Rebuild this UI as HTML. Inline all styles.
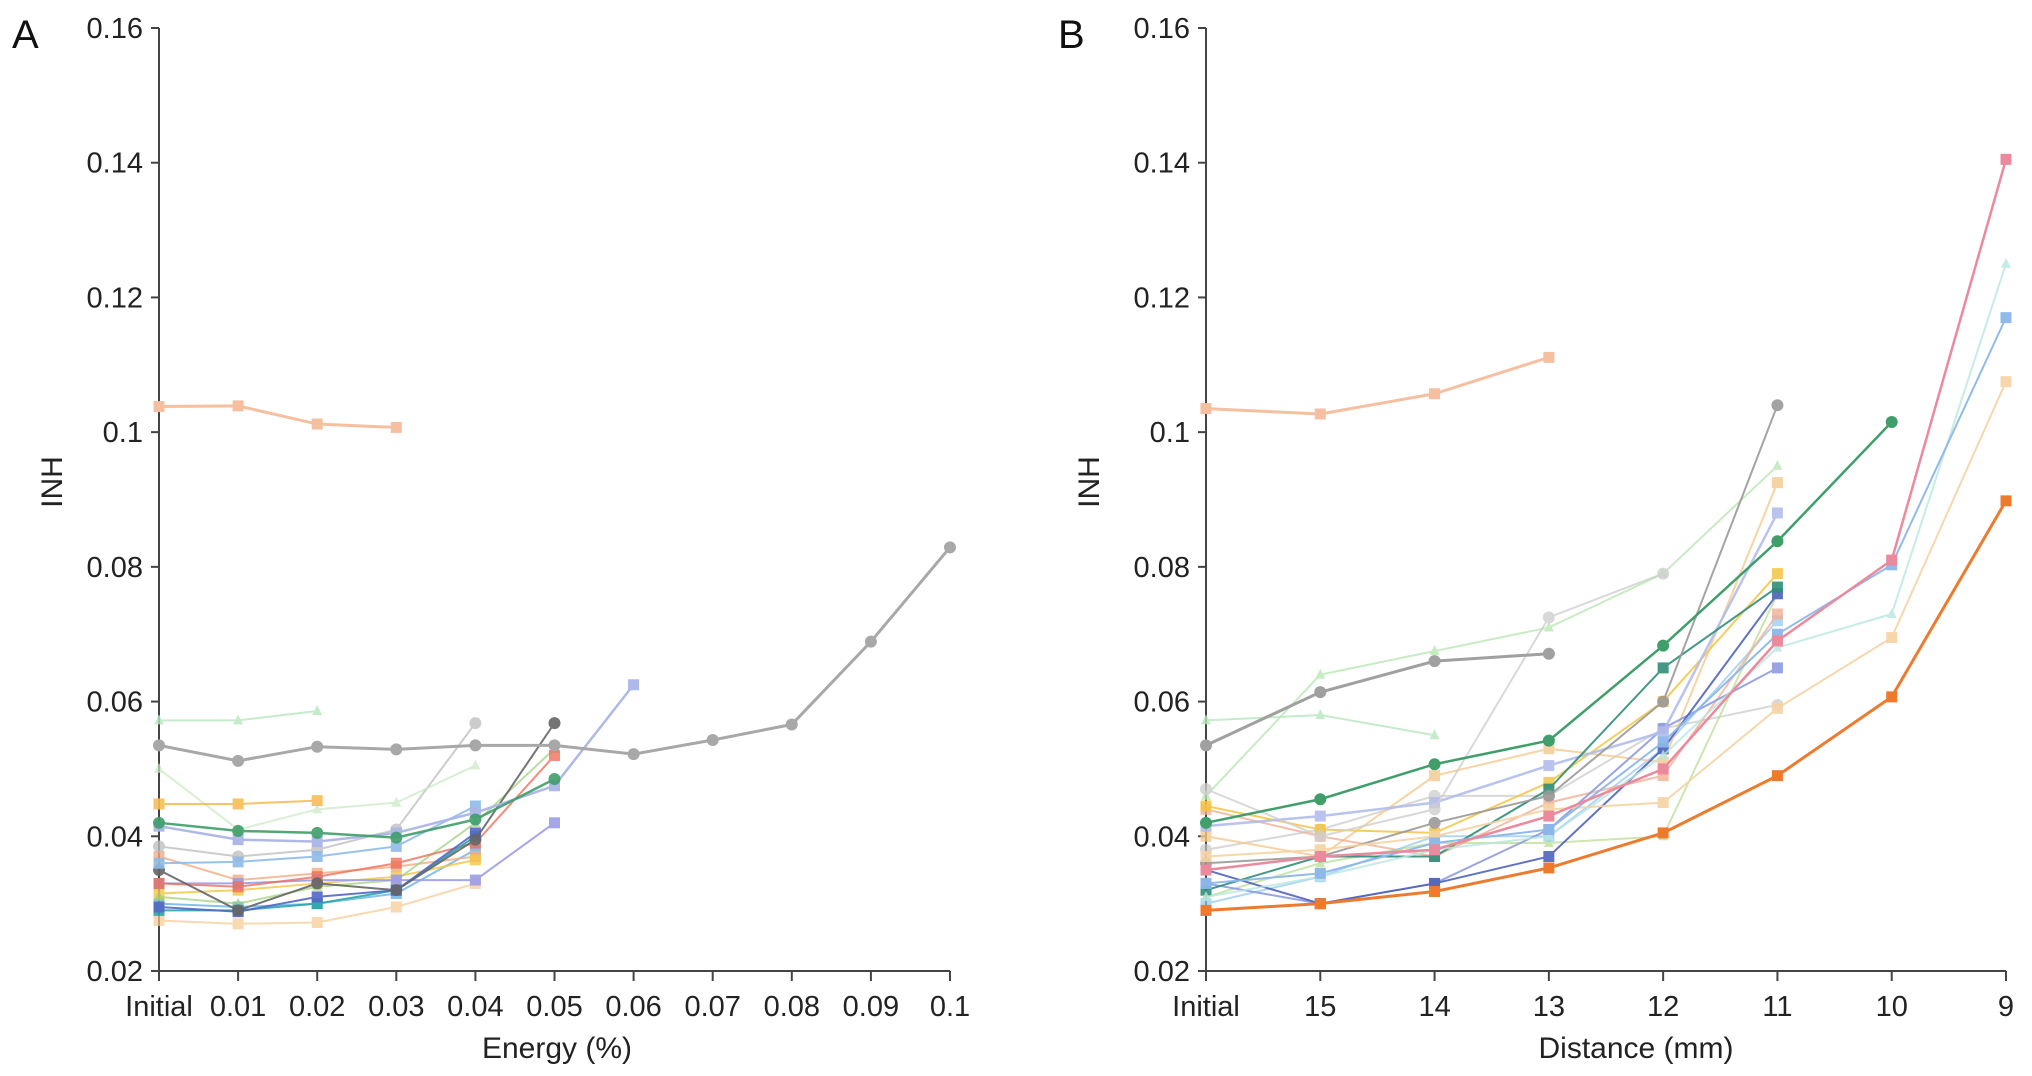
<!DOCTYPE html>
<html><head><meta charset="utf-8">
<style>
html,body{margin:0;padding:0;background:#fff;}
svg{display:block;font-family:"Liberation Sans",Arial,sans-serif;}
</style></head>
<body>
<svg id="chart" width="2032" height="1076" viewBox="0 0 2032 1076" xmlns="http://www.w3.org/2000/svg"></svg>
<script>
// ---- Panel A data ----
const catsA = ["Initial","0.01","0.02","0.03","0.04","0.05","0.06","0.07","0.08","0.09","0.1"];
const a_peach = [0.1038,0.1039,0.1012,0.1007];
const a_gray = [0.0535,0.0512,0.0533,0.0529,0.0535,0.0535,0.0522,0.0543,0.0566,0.0689,0.0829];
const a_mint = [0.0572,0.0572,0.0586];
const a_orange = [0.0448,0.0448,0.0453];
const a_green = [0.0420,0.0408,0.0405,0.0398,0.0425,0.0485];
const a_lav = [0.0415,0.0395,0.0392,0.0405,0.0435,0.0475,0.0625];
const a_blue = [0.0360,0.0362,0.0370,0.0385,0.0445];
const a_darkgray = [0.0350,0.0290,0.0330,0.0320,0.0395,0.0568];
const a_red = [0.0330,0.0325,0.0340,0.0360,0.0390,0.0520];
const a_purple = [0.0330,0.0330,0.0335,0.0335,0.0335,0.0420];
const a_teal = [0.0290,0.0290,0.0300,0.0320,0.0400];
const a_yellow = [0.0315,0.0320,0.0330,0.0340,0.0365];
const a_navy = [0.0295,0.0288,0.0310,0.0320,0.0405];
const a_ltgray = [0.0385,0.0370,0.0380,0.0410,0.0568];
const a_ltorange = [0.0275,0.0270,0.0272,0.0295,0.0330];
const a_sky = [0.0300,0.0295,0.0300,0.0315,0.0380];
const a_ltgreen = [0.0500,0.0410,0.0440,0.0450,0.0505];
const a_salmon = [0.0370,0.0335,0.0345,0.0355,0.0370];
const a_olive = [0.0310,0.0300,0.0325,0.0335,0.0420,0.0530];
// ---- Panel B data ----
const catsB = ["Initial","15","14","13","12","11","10","9"];
const b_peach = [0.1035,0.1027,0.1057,0.1111];
const b_gray = [0.0535,0.0614,0.0660,0.0671];
const b_ltgray = [0.0470,0.0400,0.0440,0.0725,0.0790];
const b_gray2 = [0.0360,0.0370,0.0420,0.0460,0.0600,0.1040];
const b_mint = [0.0572,0.0580,0.0550];
const b_ltgreen = [0.0460,0.0640,0.0675,0.0710,0.0790,0.0950];
const b_green = [0.0420,0.0455,0.0507,0.0542,0.0683,0.0838,0.1015];
const b_pink = [0.0350,0.0370,0.0380,0.0430,0.0500,0.0690,0.0810,0.1405];
const b_blue = [0.0330,0.0345,0.0390,0.0410,0.0540,0.0700,0.0803,0.1170];
const b_ltorange = [0.0370,0.0380,0.0400,0.0440,0.0450,0.0590,0.0695,0.1075];
const b_orange = [0.0290,0.0300,0.0318,0.0353,0.0405,0.0490,0.0607,0.0898];
const b_aqua = [0.0310,0.0340,0.0380,0.0400,0.0520,0.0680,0.0730,0.1250];
const b_teal = [0.0320,0.0370,0.0370,0.0470,0.0650,0.0770];
const b_navy = [0.0350,0.0300,0.0330,0.0370,0.0530,0.0760];
const b_lav = [0.0415,0.0430,0.0450,0.0505,0.0555,0.0880];
const b_yellow = [0.0445,0.0410,0.0405,0.0480,0.0600,0.0790];
const b_purple = [0.0330,0.0300,0.0330,0.0410,0.0560,0.0650];
const b_salmon = [0.0440,0.0400,0.0370,0.0450,0.0490,0.0730];
const b_sand = [0.0400,0.0370,0.0490,0.0530,0.0510,0.0925];
const b_sky = [0.0300,0.0340,0.0400,0.0400,0.0530,0.0720];
const b_olive = [0.0310,0.0360,0.0390,0.0390,0.0400,0.0760];
const b_grayish = [0.0380,0.0410,0.0460,0.0460,0.0560,0.0595];

const NS="http://www.w3.org/2000/svg";
const svg=document.getElementById('chart');
function mk(tag,attrs,parent){const e=document.createElementNS(NS,tag);for(const k in attrs)e.setAttribute(k,attrs[k]);(parent||svg).appendChild(e);return e;}

function panel(cfg){
  const g=mk('g',{});
  
  
  const y0=971, yTop=28;
  const yS=v=>y0-(v-0.02)/(0.14)*(y0-yTop);
  const xS=i=>cfg.x0+i*(cfg.x1-cfg.x0)/(cfg.cats.length-1);
  const ya=mk('line',{x1:cfg.x0,y1:yTop,x2:cfg.x0,y2:y0,stroke:'#444','stroke-width':2},g);
  
  
  const xa=mk('line',{x1:cfg.x0,y1:y0,x2:cfg.x1,y2:y0,stroke:'#444','stroke-width':2},g);
  
  
  const yt=[0.02,0.04,0.06,0.08,0.1,0.12,0.14,0.16];
  const ytl=["0.02","0.04","0.06","0.08","0.1","0.12","0.14","0.16"];
  yt.forEach((v,i)=>{
    mk('line',{x1:cfg.x0-8,y1:yS(v),x2:cfg.x0,y2:yS(v),stroke:'#444','stroke-width':2},g);
    const t=mk('text',{x:cfg.x0-16,y:yS(v)+10,'font-size':29,'text-anchor':'end',fill:'#222'},g);
    t.textContent=ytl[i];
    
    
  });
  cfg.cats.forEach((c,i)=>{
    mk('line',{x1:xS(i),y1:y0,x2:xS(i),y2:y0+10,stroke:'#444','stroke-width':2},g);
    const t=mk('text',{x:xS(i),y:y0+45,'font-size':29,'text-anchor':'middle',fill:'#222'},g);
    t.textContent=c;
    
    
  });
  const xt=mk('text',{x:cfg.xTitleX,y:1058,'font-size':30,'text-anchor':'middle',fill:'#222'},g);
  xt.textContent=cfg.xTitle;
  
  
  const yl=mk('text',{x:cfg.yTitleX,y:482,'font-size':30,'text-anchor':'middle',fill:'#222',transform:`rotate(-90 ${cfg.yTitleX} 482)`},g);
  yl.textContent='INH';
  
  
  const pl=mk('text',{x:cfg.labelX,y:48,'font-size':40,fill:'#111'},g);
  pl.textContent=cfg.label;
  
  
  cfg.series.forEach(s=>{
    const [vals,color,mark,w,op]=s;
    const sg=mk('g',{opacity:op},g);
    
    
    const pts=vals.map((v,i)=>xS(i)+','+yS(v)).join(' ');
    mk('polyline',{points:pts,fill:'none',stroke:color,'stroke-width':w},sg);
    vals.forEach((v,i)=>{
      let m;
      if(mark==='c') m=mk('circle',{cx:xS(i),cy:yS(v),r:6,fill:color},sg);
      else if(mark==='t') m=mk('polygon',{points:`${xS(i)},${yS(v)-6} ${xS(i)-5},${yS(v)+4} ${xS(i)+5},${yS(v)+4}`,fill:color},sg);
      else m=mk('rect',{x:xS(i)-5.5,y:yS(v)-5.5,width:11,height:11,fill:color},sg);
      
      
    });
  });
}

panel({name:'panel-a',label:'A',labelX:12,x0:159,x1:950,cats:catsA,xTitle:'Energy (%)',xTitleX:557,yTitleX:62,
series:[
 [a_ltorange,'#f6c990','s',2,0.7],[a_sky,'#63b3e8','s',2,0.8],[a_salmon,'#f3ab86','s',2,0.8],
 [a_yellow,'#f4c542','s',2,0.8],[a_ltgray,'#c0c0c0','c',2,0.8],[a_olive,'#9ccf7a','t',2,0.7],
 [a_ltgreen,'#c9e8c4','t',2,0.7],[a_purple,'#9d9de8','s',2,0.9],[a_red,'#ee6f5a','s',2,0.8],
 [a_teal,'#2aa7a7','s',2,0.9],[a_navy,'#5567c8','s',2,0.9],[a_darkgray,'#666','c',2,0.9],
 [a_blue,'#8fbbe8','s',2,0.9],[a_lav,'#aab6e6','s',2.5,0.95],[a_green,'#3f9e6a','c',2.5,0.9],
 [a_orange,'#f7bd55','s',2,0.9],[a_mint,'#b7e8bd','t',2,0.8],[a_gray,'#a8a8a8','c',3,1],[a_peach,'#f5bfa0','s',3,1]
]});

panel({name:'panel-b',label:'B',labelX:1058,x0:1206,x1:2006,cats:catsB,xTitle:'Distance (mm)',xTitleX:1636,yTitleX:1099,
series:[
 [b_grayish,'#c8c8c8','c',2,0.7],[b_olive,'#b7dc8d','t',2,0.7],[b_sky,'#8fc7ee','s',2,0.7],
 [b_sand,'#f5c98c','s',2,0.8],[b_salmon,'#f1b095','s',2,0.8],[b_purple,'#8f9be0','s',2,0.9],
 [b_yellow,'#f4c542','s',2,0.85],[b_lav,'#b2bdec','s',2.5,0.9],[b_navy,'#4f63bc','s',2,0.9],
 [b_teal,'#2f8d7a','s',2,0.9],[b_aqua,'#b8e7e0','t',2,0.8],[b_ltgreen,'#b8e8b2','t',2,0.8],
 [b_mint,'#b7e8bd','t',2,0.8],[b_ltgray,'#cfcfcf','c',2,0.8],[b_gray2,'#9a9a9a','c',2,0.9],
 [b_ltorange,'#f6d3a4','s',2,0.9],[b_blue,'#8cb7ea','s',2,0.95],[b_pink,'#eb8a9c','s',2.5,1],
 [b_green,'#3f9e6a','c',2.5,1],[b_orange,'#ee7a2e','s',3,1],[b_gray,'#a0a0a0','c',3,1],[b_peach,'#f5bfa0','s',3,1]
]});
</script>
</body></html>
